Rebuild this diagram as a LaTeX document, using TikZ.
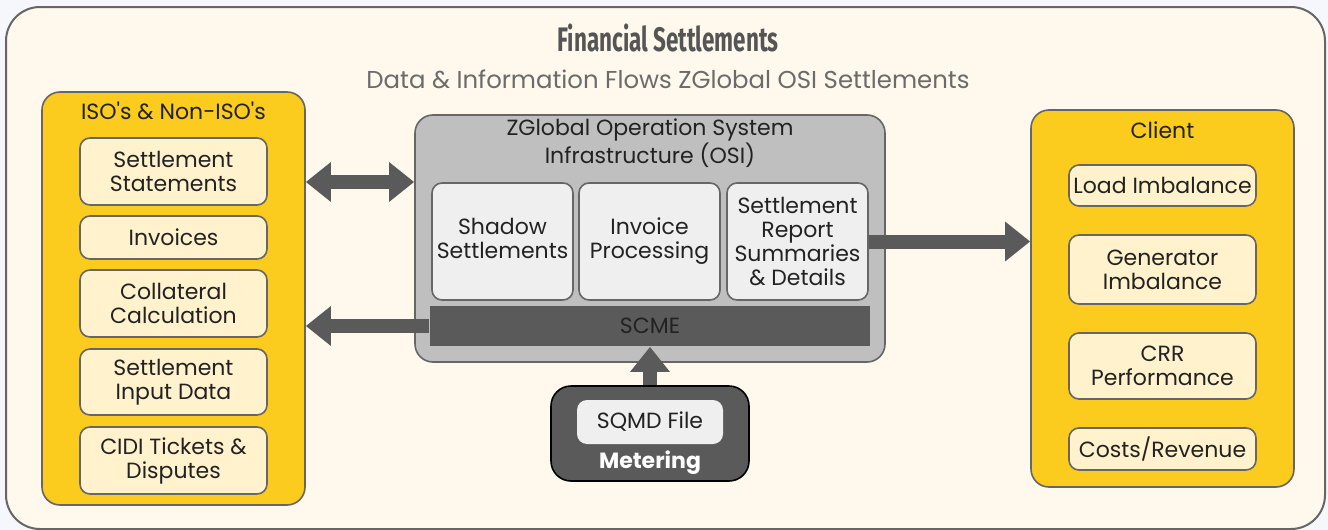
\documentclass[tikz,border=0pt]{standalone}
\usepackage{fontspec}
\setmainfont{Poppins}
\newfontfamily\headfont[FakeStretch=0.66]{Fira Sans}
\usetikzlibrary{arrows.meta}

\definecolor{pagebg}{HTML}{F5F7FC}
\definecolor{panelbg}{HTML}{FFF8EC}
\definecolor{gold}{HTML}{FBCB1E}
\definecolor{cream}{HTML}{FFF2CC}
\definecolor{rim}{HTML}{666666}
\definecolor{osigray}{HTML}{BFBFBF}
\definecolor{boxgray}{HTML}{EFEFEF}
\definecolor{slate}{HTML}{5A5A5A}
\definecolor{ink}{HTML}{222222}
\definecolor{titlegray}{HTML}{555555}
\definecolor{subgray}{HTML}{6B6B6B}

\newcommand{\bodyfont}{\fontsize{11}{12}\selectfont}

\begin{document}
\begin{tikzpicture}[x=0.5pt,y=-0.5pt]
    \useasboundingbox[fill=pagebg] (0,0) rectangle (1328,530);
    \node[draw=rim,fill=panelbg,line width=1pt,rounded corners=17pt,
          minimum width=659.5pt,minimum height=261pt] (panel) at (665.5,268) {};
    \node[font=\headfont\bfseries\fontsize{17}{20}\selectfont,text=titlegray] (title) at (668,38) {Financial Settlements};
    \node[font=\fontsize{12.2}{14}\selectfont,text=subgray] (subtitle) at (668,79) {Data \& Information Flows ZGlobal OSI Settlements};

    % groups
    \begin{scope}[every node/.style={draw=rim,line width=0.8pt,rounded corners=9pt,inner sep=0pt}]
        \node[fill=gold,minimum width=131.5pt,minimum height=206.5pt] (isos) at (173.5,298.5) {};
        \node[fill=gold,minimum width=131.5pt,minimum height=188.5pt] (client) at (1162.5,298.5) {};
        \node[fill=osigray,minimum width=235pt,minimum height=123.5pt] (osi) at (650,238.5) {};
        \node[fill=slate,draw=black,rounded corners=10pt,minimum width=99pt,minimum height=47.5pt] (meter) at (650,433.5) {};
    \end{scope}
    \begin{scope}[every node/.style={font=\bodyfont,text=ink,align=center}]
        \node (isostitle) at (173.5,111) {ISO\textquotesingle s \& Non-ISO\textquotesingle s};
        \node (clienttitle) at (1162.5,130) {Client};
        \node (osititle) at (650,143) {ZGlobal Operation System\\Infrastructure (OSI)};
        \node[text=white,font=\bodyfont\bfseries] (metertitle) at (650,463) {Metering};
    \end{scope}

    % items
    \begin{scope}[every node/.style={draw=rim,line width=0.8pt,rounded corners=5pt,fill=cream,
                  minimum width=93.5pt,inner sep=0pt,align=center,font=\bodyfont,text=ink}]
        \node[minimum height=33.5pt] (stmts) at (173.5,171.5) {Settlement\\Statements};
        \node[minimum height=21.5pt] (invoices) at (173.5,237.5) {Invoices};
        \node[minimum height=33.5pt] (collat) at (173.5,303.5) {Collateral\\Calculation};
        \node[minimum height=33pt] (input) at (173.5,382) {Settlement\\Input Data};
        \node[minimum height=33.5pt] (cidi) at (173.5,460.5) {CIDI Tickets \&\\Disputes};
        \node[minimum height=20.5pt] (load) at (1162.5,185.5) {Load Imbalance};
        \node[minimum height=34.5pt] (gen) at (1162.5,269.5) {Generator\\Imbalance};
        \node[minimum height=33pt] (crr) at (1162.5,366) {CRR\\Performance};
        \node[minimum height=21pt] (costs) at (1162.5,449) {Costs/Revenue};
        \node[fill=boxgray,minimum width=70.5pt,minimum height=58.5pt] (shadow) at (502.5,241.5) {Shadow\\Settlements\vphantom{g}};
        \node[fill=boxgray,minimum width=70.5pt,minimum height=58.5pt] (invproc) at (649.5,241.5) {Invoice\\Processing};
        \node[fill=boxgray,minimum width=70.5pt,minimum height=58.5pt] (rep) at (797.5,241.5) {Settlement\\Report\\Summaries\\\& Details};
        \node[fill=slate,draw=none,rounded corners=0pt,minimum width=220pt,minimum height=20pt,text=ink] (scme) at (650,326) {SCME};
        \node[fill=boxgray,draw=none,minimum width=73pt,minimum height=22pt] (sqmd) at (650,422) {SQMD File};
    \end{scope}

    % flows
    \coordinate (dbl) at (0,182);
    \begin{scope}[line width=7pt,draw=slate,>={Triangle[length=12.5pt,width=19pt]}]
        \draw[<->] (isos.east |- dbl) -- (osi.west |- dbl);
        \draw[->] (scme.west) -- (isos.east |- scme.west);
        \draw[->] (rep.east) -- (client.west |- rep.east);
        \draw[->] (meter.north) -- (scme.south);
    \end{scope}
\end{tikzpicture}
\end{document}
